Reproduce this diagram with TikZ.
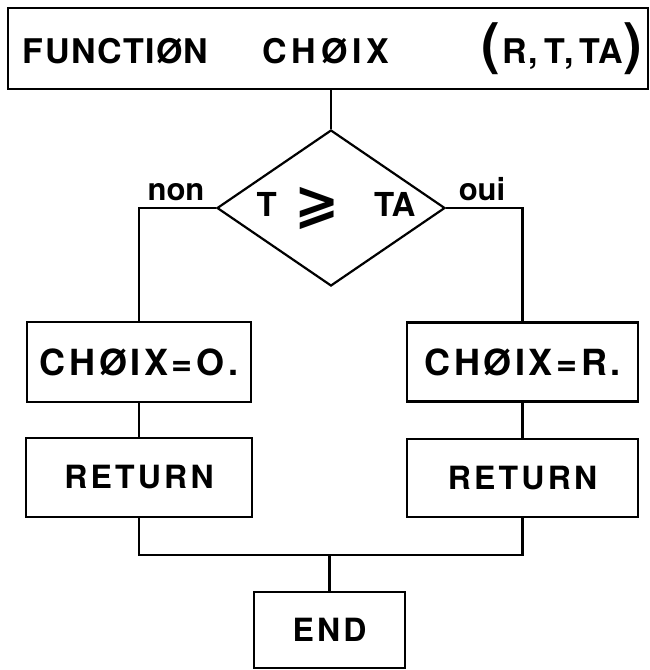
\documentclass[tikz,border=0pt]{standalone}
\usepackage{fontspec}
\usetikzlibrary{shapes.geometric}
\setmainfont{TeX Gyre Heros}
\newfontfamily\chartfont[LetterSpace=10]{TeX Gyre Heros}
\newfontfamily\headfont[LetterSpace=4]{TeX Gyre Heros}
\newfontfamily\symfont{DejaVu Sans}

\tikzset{
  flow/.style={line width=2.2pt, line join=miter},
  procbox/.style={draw, line width=2.2pt, rectangle, inner sep=0pt,
    font=\chartfont\bfseries\fontsize{36}{40}\selectfont},
  termbox/.style={procbox, font=\chartfont\bfseries\fontsize{32}{36}\selectfont},
  testbox/.style={draw, line width=2.2pt, diamond, inner sep=0pt,
    minimum width=228pt, minimum height=156pt,
    font=\bfseries\fontsize{33}{36}\selectfont},
  branchlabel/.style={anchor=base, inner sep=0pt,
    font=\bfseries\fontsize{31}{34}\selectfont}
}

\begin{document}
\begin{tikzpicture}[x=1pt, y=-1pt]
\useasboundingbox (0,0) rectangle (649,670);

% header: function declaration
\node[procbox, font=\headfont\bfseries\fontsize{34}{38}\selectfont,
      minimum width=640pt, minimum height=81pt] (title) at (328,48.5)
  {\hspace*{9pt}\makebox[619pt]{FUNCTIØN\hspace{54pt}{\addfontfeature{LetterSpace=14}CHØIX}\hfill
   {\fontsize{56}{56}\selectfont(}\hspace{3pt}R,\hspace{6pt}T,\hspace{6pt}TA{\fontsize{56}{56}\selectfont)}}};

% test T >= TA (zero-width content keeps the diamond at its set size)
\node[testbox] (test) at (331,208)
  {\makebox[0pt]{\hspace*{10pt}T\hspace{18pt}\raisebox{-5pt}{\symfont\fontsize{54}{54}\selectfont ⩾}\hspace{34pt}TA}};

% branch turning points
\coordinate (nonturn) at (139,208);
\coordinate (ouiturn) at (522.5,208);

\node[procbox, minimum width=224pt, minimum height=80pt] (setzero) at (139,362) {CHØIX=O.};
\node[procbox, minimum width=231pt, minimum height=79pt] (setr) at (522.5,362) {CHØIX=R.};
\node[termbox, minimum width=226pt, minimum height=79pt] (retl) at (139,477.5) {RETURN};
\node[termbox, minimum width=231pt, minimum height=78pt] (retr) at (522.5,478) {RETURN};
\node[termbox, minimum width=151pt, minimum height=76pt] (fin) at (329.5,630) {END};

% branch labels
\node[branchlabel] (nonlbl) at (176,200) {non};
\node[branchlabel] (ouilbl) at (482,200) {oui};

% merge points
\coordinate (joinl) at (139,555);
\coordinate (joinr) at (522.5,555);
\coordinate (joinm) at (329.5,555);

% connectors
\draw[flow] (title.south -| test.north) -- (test.north);
\draw[flow] (test.west) -- (nonturn) -- (setzero.north);
\draw[flow] (test.east) -- (ouiturn) -- (setr.north);
\draw[flow] (setzero) -- (retl);
\draw[flow] (setr) -- (retr);
\draw[flow] (retl.south) -- (joinl) -- (joinr) -- (retr.south);
\draw[flow] (joinm) -- (fin.north);
\end{tikzpicture}
\end{document}
